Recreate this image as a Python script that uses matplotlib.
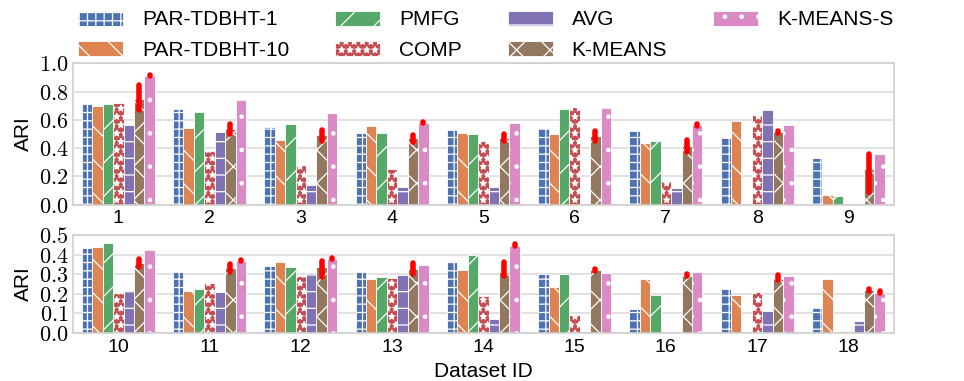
import numpy as np
import matplotlib
matplotlib.use("Agg")
import matplotlib.pyplot as plt
from matplotlib.ticker import FuncFormatter

methods = ["PAR-TDBHT-1", "PAR-TDBHT-10", "PMFG", "COMP", "AVG", "K-MEANS", "K-MEANS-S"]
colors = ["#4C72B0", "#DD8452", "#55A868", "#C44E52", "#8172B3", "#937860", "#DA8BC3"]
hatches = ["++", "\\", "/", "**", "-", "x", "."]

top_ids = ["1", "2", "3", "4", "5", "6", "7", "8", "9"]
bot_ids = ["10", "11", "12", "13", "14", "15", "16", "17", "18"]

# ARI values per method (datasets 1-9)
top_vals = {
    "PAR-TDBHT-1":  [0.709, 0.680, 0.552, 0.507, 0.528, 0.543, 0.524, 0.474, 0.327],
    "PAR-TDBHT-10": [0.700, 0.545, 0.460, 0.559, 0.507, 0.498, 0.436, 0.595, 0.066],
    "PMFG":         [0.709, 0.659, 0.569, 0.507, 0.500, 0.675, 0.450, 0.0, 0.062],
    "COMP":         [0.720, 0.379, 0.284, 0.251, 0.453, 0.692, 0.166, 0.637, 0.0],
    "AVG":          [0.564, 0.517, 0.140, 0.123, 0.126, 0.0, 0.118, 0.673, 0.0],
    "K-MEANS":      [0.749, 0.538, 0.490, 0.469, 0.474, 0.488, 0.415, 0.514, 0.254],
    "K-MEANS-S":    [0.912, 0.737, 0.649, 0.580, 0.576, 0.687, 0.562, 0.566, 0.358],
}
# datasets 10-18
bot_vals = {
    "PAR-TDBHT-1":  [0.432, 0.309, 0.341, 0.309, 0.365, 0.299, 0.120, 0.225, 0.130],
    "PAR-TDBHT-10": [0.439, 0.216, 0.363, 0.277, 0.321, 0.235, 0.274, 0.194, 0.277],
    "PMFG":         [0.461, 0.223, 0.338, 0.287, 0.400, 0.299, 0.196, 0.0, 0.0],
    "COMP":         [0.204, 0.257, 0.290, 0.282, 0.189, 0.093, 0.0, 0.211, 0.012],
    "AVG":          [0.220, 0.211, 0.304, 0.296, 0.073, 0.0, 0.0, 0.110, 0.062],
    "K-MEANS":      [0.355, 0.333, 0.338, 0.328, 0.312, 0.321, 0.291, 0.274, 0.220],
    "K-MEANS-S":    [0.426, 0.365, 0.378, 0.345, 0.446, 0.304, 0.309, 0.291, 0.206],
}

# error ranges (low, high) for the k-means runs
top_km_lo = [0.668, 0.500, 0.450, 0.440, 0.448, 0.450, 0.372, 0.508, 0.090]
top_km_hi = [0.846, 0.570, 0.526, 0.490, 0.498, 0.520, 0.455, 0.520, 0.360]
top_kms_lo = [0.912, 0.737, 0.649, 0.578, 0.576, 0.687, 0.558, 0.566, 0.358]
top_kms_hi = [0.918, 0.737, 0.649, 0.586, 0.576, 0.687, 0.568, 0.566, 0.358]
bot_km_lo = [0.338, 0.313, 0.284, 0.300, 0.290, 0.318, 0.290, 0.270, 0.215]
bot_km_hi = [0.375, 0.353, 0.368, 0.356, 0.363, 0.328, 0.300, 0.296, 0.225]
bot_kms_lo = [0.426, 0.365, 0.378, 0.345, 0.446, 0.304, 0.309, 0.291, 0.206]
bot_kms_hi = [0.426, 0.370, 0.382, 0.345, 0.452, 0.304, 0.309, 0.291, 0.212]

plt.rcParams["font.family"] = ["Liberation Sans", "DejaVu Sans"]
plt.rcParams["mathtext.fontset"] = "cm"
plt.rcParams["hatch.linewidth"] = 0.9

fig = plt.figure(figsize=(9.64, 3.81), dpi=100)
ax1 = fig.add_axes([0.0754, 0.4627, 0.852, 0.3712])
ax2 = fig.add_axes([0.0754, 0.126, 0.852, 0.2572])

nb = len(methods)
w = 0.8 / nb


def draw(ax, ids, vals, km_lo, km_hi, kms_lo, kms_hi, ymax, step):
    x = np.arange(len(ids))
    for i, m in enumerate(methods):
        pos = x - 0.4 + w * (i + 0.5)
        ax.bar(pos, vals[m], width=w, color=colors[i], edgecolor="white",
               hatch=hatches[i], linewidth=0.6, label=m, zorder=2)
    # red error bars on the two k-means variants
    for j, (lo, hi) in zip([5, 6], [(km_lo, km_hi), (kms_lo, kms_hi)]):
        pos = x - 0.4 + w * (j + 0.5)
        for p, a, b in zip(pos, lo, hi):
            if b - a > 0:
                ax.plot([p, p], [a, b], color="red", lw=4, solid_capstyle="round", zorder=4)
    ax.set_xlim(-0.5, len(ids) - 0.5)
    ax.set_ylim(0, ymax)
    ax.set_yticks(np.arange(0, ymax + 1e-9, step))
    ax.yaxis.set_major_formatter(FuncFormatter(lambda v, p: r"$%.1f$" % v))
    ax.set_xticks(x)
    ax.set_xticklabels(ids)
    ax.tick_params(length=0, labelsize=14, pad=4)
    ax.tick_params(axis="y", labelsize=16, pad=3)
    ax.grid(axis="y", color="#dcdcdc", lw=1.2, zorder=0)
    ax.set_axisbelow(True)
    for s in ax.spines.values():
        s.set_color("#d0d0d0")
        s.set_linewidth(1.2)
    ax.set_ylabel("ARI", fontsize=15, labelpad=4)


draw(ax1, top_ids, top_vals, top_km_lo, top_km_hi, top_kms_lo, top_kms_hi, 1.0, 0.2)
draw(ax2, bot_ids, bot_vals, bot_km_lo, bot_km_hi, bot_kms_lo, bot_kms_hi, 0.5, 0.1)
ax2.set_xlabel("Dataset ID", fontsize=15, labelpad=5)

handles, labels = ax1.get_legend_handles_labels()
fig.legend(handles, labels, loc="upper left", bbox_to_anchor=(0.0615, 1.022), ncol=4,
           frameon=False, fontsize=15, handlelength=2.17, handleheight=0.72,
           columnspacing=2.2, handletextpad=0.9, labelspacing=0.55)

fig.savefig("out.png", dpi=100)
